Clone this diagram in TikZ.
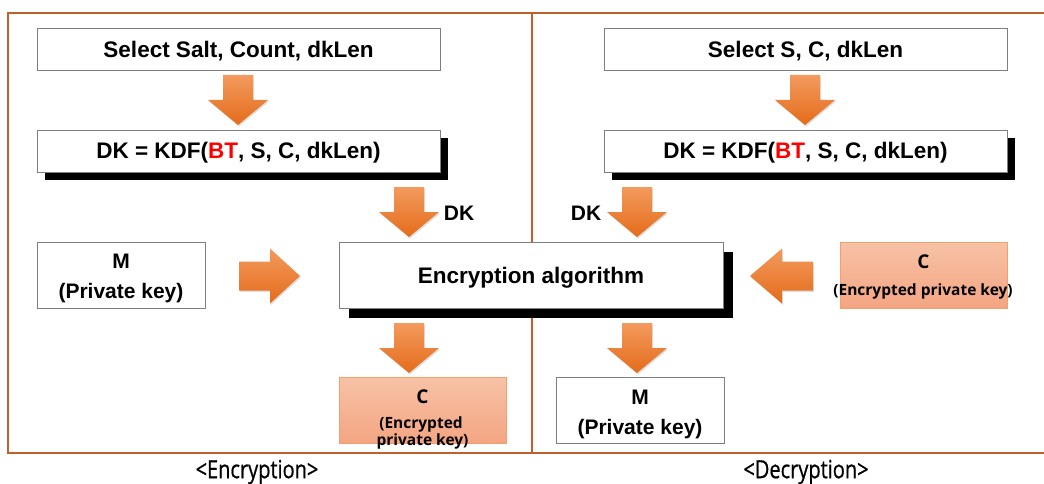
\documentclass[tikz,border=0pt]{standalone}
\usepackage{fontspec}
\setmainfont{Liberation Sans}
\newfontfamily\cfont{Open Sans}
\newfontfamily\capfont[FakeBold=0.8]{Open Sans}
\usetikzlibrary{shadows}
\definecolor{frameC}{HTML}{C0602A}
\definecolor{arTop}{HTML}{F39A5E}
\definecolor{arBot}{HTML}{E46C1A}
\definecolor{cTop}{HTML}{F7C2A6}
\definecolor{cBot}{HTML}{F4A582}
\definecolor{cLine}{HTML}{F4A06C}
\definecolor{boxLine}{HTML}{7F7F7F}
\definecolor{btRed}{HTML}{FF0000}
\tikzset{
  frameline/.style={draw=frameC, line width=1.5pt},
  box/.style={draw=boxLine, line width=0.9pt, fill=white, inner sep=0pt, align=center,
    font=\fontsize{22.5}{26}\selectfont\bfseries, text height=16pt, text depth=0pt},
  wide/.style={box, minimum width=403pt, minimum height=42pt},
  blkshadow/.style={drop shadow={shadow xshift=#1, shadow yshift=-#1, fill=black, opacity=1}},
  mbox/.style={box, minimum width=168pt, minimum height=66pt},
  cbox/.style={draw=cLine, line width=0.9pt, top color=cTop, bottom color=cBot, inner sep=0pt,
    minimum width=167pt, minimum height=66pt},
  mtext/.style={font=\fontsize{21}{25}\selectfont\bfseries, inner sep=0pt, anchor=base},
  ctext/.style={font=\cfont\bfseries\fontsize{15.5}{15.5}\selectfont, inner sep=0pt, anchor=base},
  cletter/.style={font=\cfont\bfseries\fontsize{19}{19}\selectfont, inner sep=0pt, anchor=base},
  dklabel/.style={font=\fontsize{21}{21}\selectfont\bfseries, inner sep=0pt},
  caption/.style={font=\capfont\fontsize{25}{25}\selectfont, inner sep=0pt},
  blockarrow/.style={top color=arTop, bottom color=arBot, draw=none,
    drop shadow={shadow xshift=1pt, shadow yshift=-1.5pt, opacity=0.25}}
}
% down block arrow: centre x, top, head start, tip
\newcommand\blkdown[4]{%
  \path[blockarrow] (#1-15,#2) -- (#1+15,#2) -- (#1+15,#3) -- (#1+30,#3) -- (#1,#4)
    -- (#1-30,#3) -- (#1-15,#3) -- cycle;}
% horizontal block arrow: tail x, head start x, tip x, centre y
\newcommand\blkside[4]{%
  \path[blockarrow] (#1,#4-14.5) -- (#2,#4-14.5) -- (#2,#4-27.5) -- (#3,#4) -- (#2,#4+27.5)
    -- (#2,#4+14.5) -- (#1,#4+14.5) -- cycle;}
\begin{document}
\begin{tikzpicture}[x=1pt,y=-1pt]
\useasboundingbox (0,0) rectangle (1044,484);
% frame
\coordinate (tl) at (8,13);
\coordinate (tr) at (1044,13);
\coordinate (bl) at (8,453);
\coordinate (br) at (1044,453);
\coordinate (dt) at (532,13);
\coordinate (db) at (532,453);
\draw[frameline] (tr) -- (tl) -- (bl) -- (br);
\draw[frameline] (dt) -- (db);

% encryption side
\node[wide] (sel1) at (238.5,49.5) {Select Salt, Count, dkLen};
\node[wide, blkshadow=8pt] (kdf1) at (238.5,151) {DK = KDF(\textcolor{btRed}{BT}, S, C, dkLen)};
\node[mbox] (m1) at (121,275) {};
\node[mtext] (m1a) at ([yshift=-27pt]m1.north) {M};
\node[mtext] (m1b) at ([yshift=-57pt]m1.north) {(Private key)};
\node[box, minimum width=384pt, minimum height=66pt, blkshadow=9.5pt] (enc) at (531,275) {Encryption algorithm};
\node[cbox] (c1) at (422.5,410.5) {};
\node[cletter] (c1a) at (422.5,403) {C};
\node[ctext] (c1b) at (421,428.5) {(Encrypted};
\node[ctext] (c1c) at (422.5,445) {private key)};

% decryption side
\node[wide] (sel2) at (805.5,49.5) {Select S, C, dkLen};
\node[wide, blkshadow=8pt] (kdf2) at (805.5,151) {DK = KDF(\textcolor{btRed}{BT}, S, C, dkLen)};
\node[cbox] (c2) at (923.5,275) {};
\node[cletter] (c2a) at (923.5,268) {C};
\node[ctext] (c2b) at (923,295) {(Encrypted private key)};
\node[mbox] (m2) at (640,410.5) {};
\node[mtext] (m2a) at ([yshift=-27pt]m2.north) {M};
\node[mtext] (m2b) at ([yshift=-57pt]m2.north) {(Private key)};

% block arrows
\blkdown{238}{75}{100}{125}
\blkdown{805}{75}{100}{125}
\blkdown{409}{187}{212}{237}
\blkdown{637}{187}{212}{237}
\blkdown{409}{323}{348}{373}
\blkdown{637}{323}{348}{373}
\blkside{239}{270}{300}{276}
\blkside{813}{782}{750}{276}

% DK labels
\node[dklabel] (dk1) at (459,213) {DK};
\node[dklabel] (dk2) at (586,213) {DK};

% captions
\node[caption] (cap1) at (257,472) {\scalebox{0.8}[1]{<Encryption>}};
\node[caption] (cap2) at (806,472) {\scalebox{0.8}[1]{<Decryption>}};
\end{tikzpicture}
\end{document}
